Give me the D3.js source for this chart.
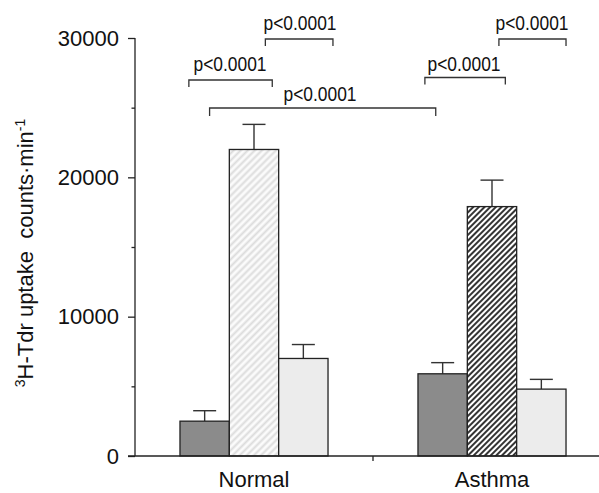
<!DOCTYPE html>
<html>
<head>
<meta charset="utf-8">
<script src="https://cdn.jsdelivr.net/npm/d3@7"></script>
<style>
  html, body { margin: 0; padding: 0; background: #fff; }
  svg { display: block; font-family: "Liberation Sans", Arial, Helvetica, sans-serif; }
</style>
</head>
<body>
<svg id="chart" width="599" height="493"></svg>
<script>
// ---- data ----
const groups = ["Normal", "Asthma"];
const series = ["s1", "s2", "s3"];
const meanNormal = [2500, 22000, 7000];
const errNormal  = [750, 1800, 1000];
const meanAsthma = [5900, 17900, 4800];
const errAsthma  = [800, 1900, 700];
const yTicks = [0, 10000, 20000, 30000];
const yMinorTicks = [5000, 15000, 25000];
const pLabels = ["p<0.0001", "p<0.0001", "p<0.0001", "p<0.0001", "p<0.0001"];

const means = [meanNormal, meanAsthma];
const errs = [errNormal, errAsthma];

const svg = d3.select("#chart");
const mLeft = 135, mRight = 611, mTop = 38, mBottom = 456;

const y = d3.scaleLinear().domain([0, 30000]).range([mBottom, mTop]);
const x0 = d3.scaleBand().domain(groups).range([mLeft, mRight]).paddingInner(0.378).paddingOuter(0.189);
const x1 = d3.scaleBand().domain(series).range([0, x0.bandwidth()]).padding(0);

// ---- patterns ----
const defs = svg.append("defs");
const pl = defs.append("pattern").attr("id", "hatchLight").attr("patternUnits", "userSpaceOnUse")
  .attr("width", 5).attr("height", 5).attr("patternTransform", "rotate(45)");
pl.append("rect").attr("width", 5).attr("height", 5).attr("fill", "#fbfbfb");
pl.append("line").attr("x1", 1.5).attr("y1", 0).attr("x2", 1.5).attr("y2", 5)
  .attr("stroke", "#dcdcdc").attr("stroke-width", 2);
const pd = defs.append("pattern").attr("id", "hatchDark").attr("patternUnits", "userSpaceOnUse")
  .attr("width", 4).attr("height", 4).attr("patternTransform", "rotate(45)");
pd.append("rect").attr("width", 4).attr("height", 4).attr("fill", "#ffffff");
pd.append("line").attr("x1", 1).attr("y1", 0).attr("x2", 1).attr("y2", 4)
  .attr("stroke", "#2a2a2a").attr("stroke-width", 1.9);

const fills = [
  ["#8b8b8b", "url(#hatchLight)", "#ececec"],
  ["#8b8b8b", "url(#hatchDark)", "#ececec"]
];

// ---- bars ----
const barData = [];
groups.forEach((g, gi) => series.forEach((s, si) => {
  barData.push({ g, s, gi, si, v: means[gi][si], e: errs[gi][si] });
}));

const gBars = svg.append("g");
gBars.selectAll("line.err").data(barData).join("line").attr("class", "err")
  .attr("x1", d => x0(d.g) + x1(d.s) + x1.bandwidth() / 2)
  .attr("x2", d => x0(d.g) + x1(d.s) + x1.bandwidth() / 2)
  .attr("y1", d => y(d.v)).attr("y2", d => y(d.v + d.e))
  .attr("stroke", "#333").attr("stroke-width", 1.4);
gBars.selectAll("line.cap").data(barData).join("line").attr("class", "cap")
  .attr("x1", d => x0(d.g) + x1(d.s) + x1.bandwidth() / 2 - 11.5)
  .attr("x2", d => x0(d.g) + x1(d.s) + x1.bandwidth() / 2 + 11.5)
  .attr("y1", d => y(d.v + d.e)).attr("y2", d => y(d.v + d.e))
  .attr("stroke", "#333").attr("stroke-width", 1.4);
gBars.selectAll("rect.bar").data(barData).join("rect").attr("class", "bar")
  .attr("x", d => x0(d.g) + x1(d.s))
  .attr("width", x1.bandwidth())
  .attr("y", d => y(d.v))
  .attr("height", d => y(0) - y(d.v))
  .attr("fill", d => fills[d.gi][d.si])
  .attr("stroke", "#222").attr("stroke-width", 1.3);

// ---- axes ----
const yAxis = d3.axisLeft(y).tickValues(yTicks).tickSize(7).tickPadding(9).tickFormat(d3.format("d"));
const gy = svg.append("g").attr("transform", `translate(${mLeft},0)`).call(yAxis);
gy.select(".domain").attr("stroke", "#222").attr("stroke-width", 1.3).attr("d", `M0,${mTop}V${mBottom}`);
gy.selectAll(".tick line").attr("stroke", "#222").attr("stroke-width", 1.3);
gy.selectAll(".tick text").attr("font-size", 22).attr("fill", "#111")
  .attr("font-family", "'Liberation Sans', Arial, sans-serif");
const gyMinor = svg.append("g").attr("transform", `translate(${mLeft},0)`)
  .call(d3.axisLeft(y).tickValues(yMinorTicks).tickSize(3.5).tickFormat(""));
gyMinor.select(".domain").remove();
gyMinor.selectAll(".tick line").attr("stroke", "#222").attr("stroke-width", 1.3);

const xAxis = d3.axisBottom(x0).tickSize(0).tickPadding(15);
const gx = svg.append("g").attr("transform", `translate(0,${mBottom})`).call(xAxis);
gx.select(".domain").attr("stroke", "#222").attr("stroke-width", 1.3).attr("d", `M${mLeft - 7},0H${mRight}`);
gx.selectAll(".tick text").attr("font-size", 22).attr("fill", "#111")
  .attr("font-family", "'Liberation Sans', Arial, sans-serif").attr("dy", "0.71em");
const midX = (x0(groups[0]) + x0.bandwidth() + x0(groups[1])) / 2;
svg.append("line").attr("x1", midX).attr("x2", midX).attr("y1", mBottom).attr("y2", mBottom + 5)
  .attr("stroke", "#222").attr("stroke-width", 1.3);

// ---- y label ----
const yl = svg.append("text").attr("transform", "translate(33,253) rotate(-90)")
  .attr("text-anchor", "middle").attr("font-size", 22).attr("fill", "#111");
yl.append("tspan").attr("font-size", 14).attr("dy", -8).text("3");
yl.append("tspan").attr("dy", 8).text("H-Tdr uptake\u00a0\u00a0counts\u00b7min");
yl.append("tspan").attr("font-size", 14).attr("dy", -8).text("-1");

// ---- significance brackets ----
const bx = (gi, si, frac) => x0(groups[gi]) + x1(series[si]) + frac * x1.bandwidth();
const brackets = [
  { xa: bx(0, 0, 0.18), xb: bx(0, 1, 0.87), yb: 80, tick: 7, ty: 71, tx: 230 },
  { xa: bx(0, 1, 0.73), xb: bx(0, 2, 1.1), yb: 39, tick: 7, ty: 30, tx: 300 },
  { xa: bx(0, 0, 0.6), xb: bx(1, 0, 0.36), yb: 108, tick: 8, ty: 101, tx: 320 },
  { xa: bx(1, 0, 0.14), xb: bx(1, 1, 0.77), yb: 77.5, tick: 7, ty: 71, tx: 464 },
  { xa: bx(1, 1, 0.64), xb: bx(1, 2, 1.0), yb: 39, tick: 7, ty: 30, tx: 532 }
];
const gB = svg.append("g");
brackets.forEach((b, i) => {
  gB.append("path")
    .attr("d", `M${b.xa},${b.yb + b.tick}V${b.yb}H${b.xb}V${b.yb + b.tick}`)
    .attr("fill", "none").attr("stroke", "#333").attr("stroke-width", 1.3);
  gB.append("text").attr("x", b.tx).attr("y", b.ty).attr("text-anchor", "middle")
    .attr("font-size", 20).attr("fill", "#111")
    .attr("textLength", 73).attr("lengthAdjust", "spacingAndGlyphs")
    .text(pLabels[i]);
});
</script>
</body>
</html>
